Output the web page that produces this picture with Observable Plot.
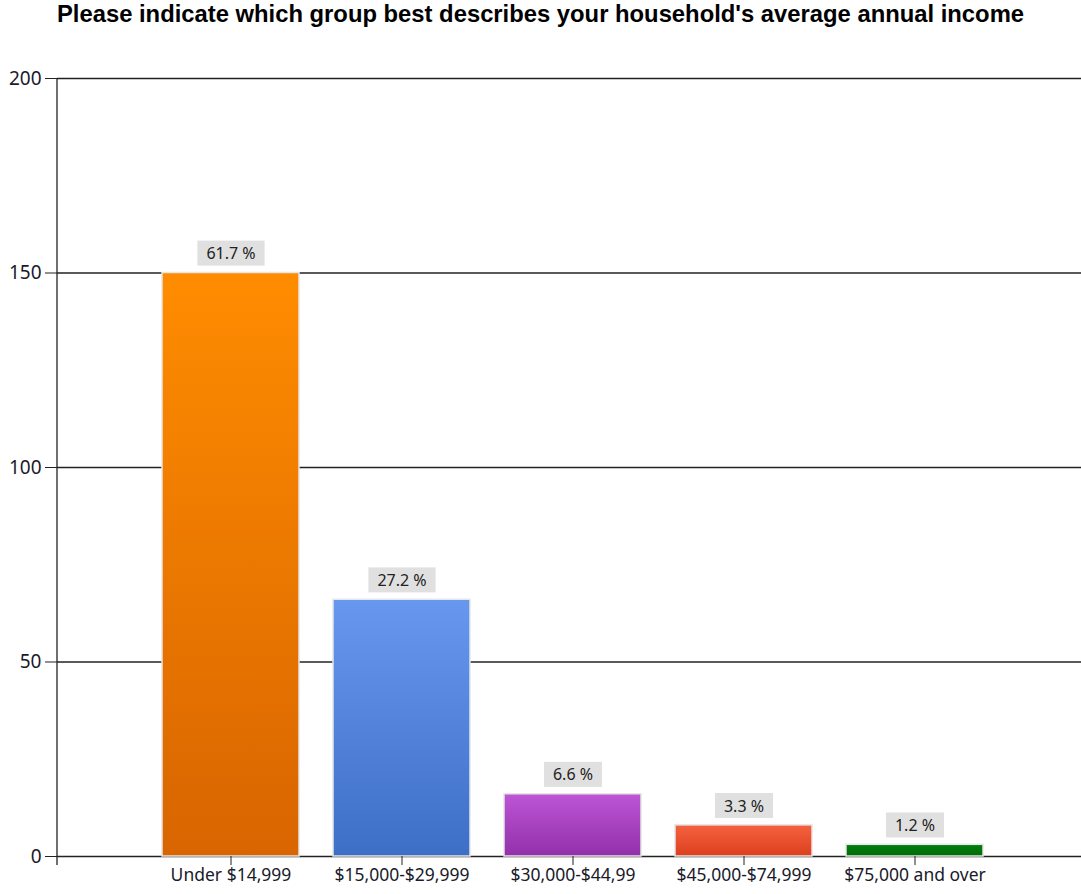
<!DOCTYPE html>
<html><head><meta charset="utf-8">
<script src="https://cdn.jsdelivr.net/npm/d3@7"></script>
<script src="https://cdn.jsdelivr.net/npm/@observablehq/plot@0.6"></script>
<style>
body{margin:0;background:#fff;}
#title{width:1081px;height:40px;line-height:40px;text-align:center;font:bold 23.8px "Liberation Sans",Arial,sans-serif;color:#000;}
</style>
</head><body>
<div id="title">Please indicate which group best describes your household's average annual income</div>
<div id="chart"></div>
<script>
const categories = ["Under $14,999", "$15,000-$29,999", "$30,000-$44,99", "$45,000-$74,999", "$75,000 and over"];
const counts = [150, 66, 16, 8, 3];
const percents = [61.7, 27.2, 6.6, 3.3, 1.2];
const colorsTop = ["#FF8C00", "#6797EE", "#BD55D6", "#F5623F", "#00800B"];
const colorsBottom = ["#D86500", "#3E6FC6", "#9330A9", "#DC3F1E", "#006A0A"];
const yTicks = [0, 50, 100, 150, 200];

const data = categories.map((c, i) => ({category: c, count: counts[i], pct: percents[i], grad: `url(#grad${i})`}));

const yLine = (index, scales, values, dims) => {
  const d = dims || {marginLeft: 57, marginTop: 38, height: 854, marginBottom: 38};
  const l = d3.create("svg:line")
    .attr("x1", d.marginLeft).attr("x2", d.marginLeft)
    .attr("y1", d.marginTop).attr("y2", d.height - d.marginBottom + 9)
    .attr("stroke", "#222").attr("stroke-width", 1.3);
  return l.node();
};

const chart = Plot.plot({
  width: 1081,
  height: 854,
  marginLeft: 57,
  marginRight: 0,
  marginTop: 38,
  marginBottom: 38,
  style: {fontFamily: "'Noto Sans', sans-serif", fontSize: "16px", color: "#1a1a2a", background: "#fff"},
  x: {domain: categories, range: [57, 1087], paddingInner: 0.2, paddingOuter: 0.6, label: null},
  y: {domain: [0, 200], label: null},
  color: {type: "identity"},
  marks: [
    Plot.ruleY(yTicks, {stroke: "#222", strokeWidth: 1.3}),
    Plot.barY(data, {x: "category", y: "count", fill: "grad", stroke: "#e6e6e6", strokeWidth: 1.5}),
    Plot.text(data, {x: "category", y: "count", text: d => d.pct.toFixed(1) + " %", dy: -19, fontSize: 16, fill: "#222", className: "pctlabel"}),
    Plot.axisY({ticks: yTicks, tickSize: 12, tickPadding: 4, fontSize: 19, stroke: "#222", label: null}),
    Plot.axisX({tickSize: 9, tickPadding: 3, fontSize: 17.5, stroke: "#222", label: null}),
    yLine
  ]
});
document.getElementById("chart").appendChild(chart);

// gradients
const svg = d3.select(chart);
const defs = svg.insert("defs", ":first-child");
data.forEach((r, i) => {
  const g = defs.append("linearGradient").attr("id", `grad${i}`).attr("x1", 0).attr("y1", 0).attr("x2", 0).attr("y2", 1);
  g.append("stop").attr("offset", "0%").attr("stop-color", colorsTop[i]);
  g.append("stop").attr("offset", "100%").attr("stop-color", colorsBottom[i]);
});

// label boxes
svg.selectAll("g.pctlabel text").each(function() {
  const b = this.getBBox();
  const t = this.getAttribute("transform");
  const rect = document.createElementNS("http://www.w3.org/2000/svg", "rect");
  rect.setAttribute("x", b.x - 9);
  rect.setAttribute("y", b.y + b.height / 2 - 12.5);
  rect.setAttribute("width", b.width + 18);
  rect.setAttribute("height", 25);
  rect.setAttribute("fill", "#e0e0e0");
  if (t) rect.setAttribute("transform", t);
  this.parentNode.insertBefore(rect, this);
});
</script>
</body></html>
